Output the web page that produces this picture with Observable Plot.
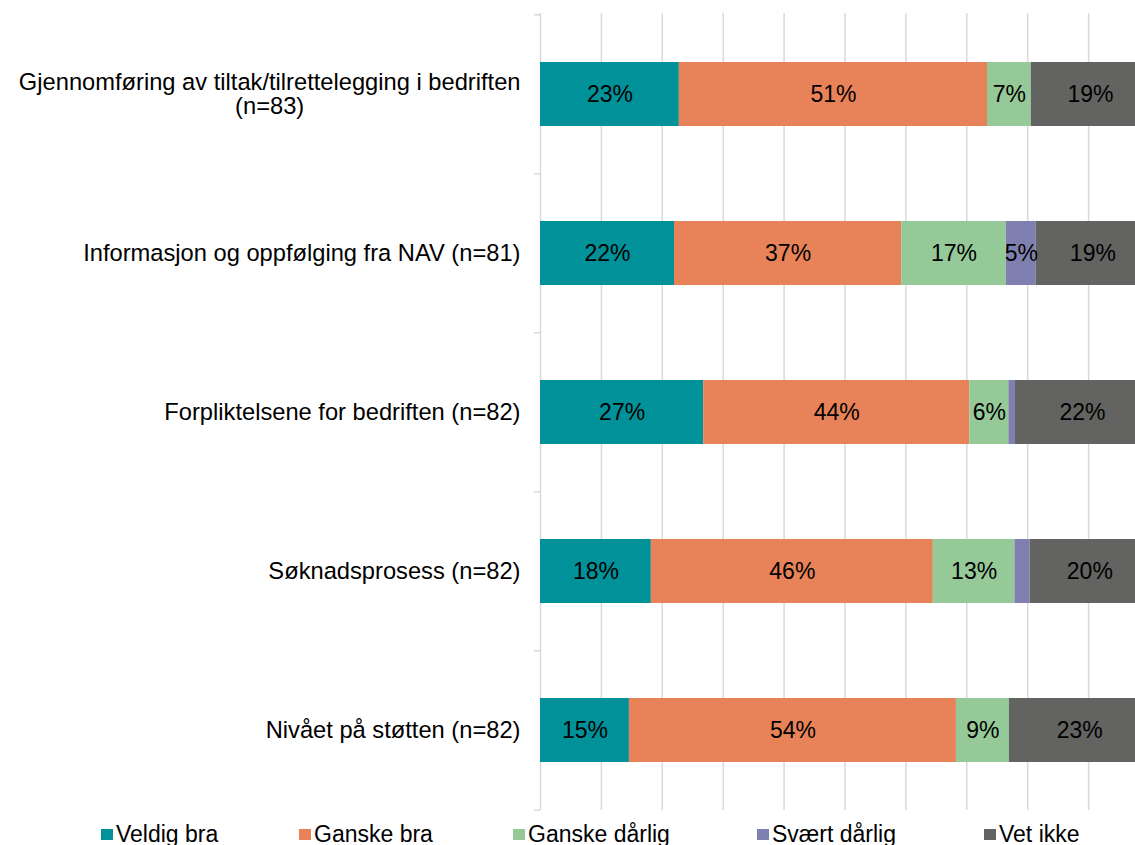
<!DOCTYPE html>
<html>
<head>
<meta charset="utf-8">
<script src="https://cdn.jsdelivr.net/npm/d3@7"></script>
<script src="https://cdn.jsdelivr.net/npm/@observablehq/plot@0.6"></script>
<style>
  html, body { margin: 0; padding: 0; background: white; overflow: hidden; }
  #chart { width: 1135px; }
  .legend { position: relative; width: 1135px; height: 21px; font-family: "Liberation Sans", Arial, sans-serif; font-size: 23px; line-height: 23px; color: #000; }
  .legend .item { position: absolute; top: -1px; white-space: nowrap; }
  .legend .sw { display: inline-block; width: 12px; height: 11px; vertical-align: 2px; margin-right: 3px; }
</style>
</head>
<body>
<div id="chart"></div>
<script>
// ---- data ----
const categories = [
  "Gjennomføring av tiltak/tilrettelegging i bedriften\n(n=83)",
  "Informasjon og oppfølging fra NAV (n=81)",
  "Forpliktelsene for bedriften (n=82)",
  "Søknadsprosess (n=82)",
  "Nivået på støtten (n=82)"
];
const series = ["Veldig bra", "Ganske bra", "Ganske dårlig", "Svært dårlig", "Vet ikke"];
const veldigBra    = [22.8, 22.0, 26.8, 18.2, 14.6];
const ganskeBra    = [50.6, 37.3, 43.7, 46.3, 53.7];
const ganskeDarlig = [7.2, 17.2, 6.4, 13.4, 8.7];
const svaertDarlig = [0, 4.9, 1.1, 2.5, 0];
const vetIkke      = [19.4, 18.6, 22.0, 19.6, 23.1];
const gridTicks = [0, 10, 20, 30, 40, 50, 60, 70, 80, 90, 100];
const colors = ["#009199", "#E88359", "#96C998", "#8080B0", "#636361"];

// ---- layout ----
const W = 1135, H = 824, mTop = 13, mBottom = 14, mLeft = 540, mRight = -14;
const labelSize = 23.7, valueSize = 23;
const step = (H - mBottom - mTop) / categories.length;

const seriesValues = [veldigBra, ganskeBra, ganskeDarlig, svaertDarlig, vetIkke];
const long = [];
categories.forEach((cat, i) => {
  series.forEach((s, j) => long.push({cat, series: s, value: seriesValues[j][i]}));
});

const ctx = document.createElement("canvas").getContext("2d");
ctx.font = `${labelSize}px "Liberation Sans"`;

const singleCats = categories.filter(c => !c.includes("\n"));
const multiCats = categories.filter(c => c.includes("\n"));

const marks = [
  Plot.ruleX(gridTicks, {x: d => d, stroke: "#d9d9d9", strokeWidth: 1.5}),
  // category separator ticks on the axis
  Plot.ruleY(categories, {y: d => d, x1: -1, x2: 0, dy: -step / 2, stroke: "#d9d9d9", strokeWidth: 1.5}),
  Plot.ruleY(categories.slice(-1), {y: d => d, x1: -1, x2: 0, dy: step / 2, stroke: "#d9d9d9", strokeWidth: 1.5}),
  Plot.barX(long, Plot.stackX({x: "value", y: "cat", fill: "series", z: "series"})),
  Plot.text(long, Plot.stackX({
    x: "value", y: "cat", z: "series",
    text: d => d.value >= 4.5 ? `${Math.round(d.value)}%` : null,
    fill: "black", fontSize: valueSize
  })),
  Plot.text(singleCats, {x: 0, y: d => d, text: d => d, textAnchor: "end", dx: -20, fontSize: labelSize, fill: "black"})
];
multiCats.forEach(c => {
  const w = Math.max(...c.split("\n").map(l => ctx.measureText(l).width));
  marks.push(Plot.text([c], {x: 0, y: d => d, text: d => d, textAnchor: "middle", lineHeight: 1.0, dx: -20 - w / 2, fontSize: labelSize, fill: "black"}));
});

const chart = Plot.plot({
  width: W,
  height: H,
  marginTop: mTop,
  marginBottom: mBottom,
  marginLeft: mLeft,
  marginRight: mRight,
  style: {fontFamily: "'Liberation Sans', Arial, sans-serif", background: "white", overflow: "hidden"},
  x: {domain: [0, 100], axis: null},
  y: {domain: categories, axis: null, paddingInner: 0.6, paddingOuter: 0.3},
  color: {domain: series, range: colors},
  marks
});
document.getElementById("chart").appendChild(chart);

// ---- legend ----
const legendLefts = [101, 299, 513, 757, 984];
const legend = document.createElement("div");
legend.className = "legend";
series.forEach((s, i) => {
  const item = document.createElement("span");
  item.className = "item";
  item.style.left = legendLefts[i] + "px";
  const sw = document.createElement("span");
  sw.className = "sw";
  sw.style.background = colors[i];
  item.appendChild(sw);
  item.appendChild(document.createTextNode(s));
  legend.appendChild(item);
});
document.getElementById("chart").appendChild(legend);
</script>
</body>
</html>
